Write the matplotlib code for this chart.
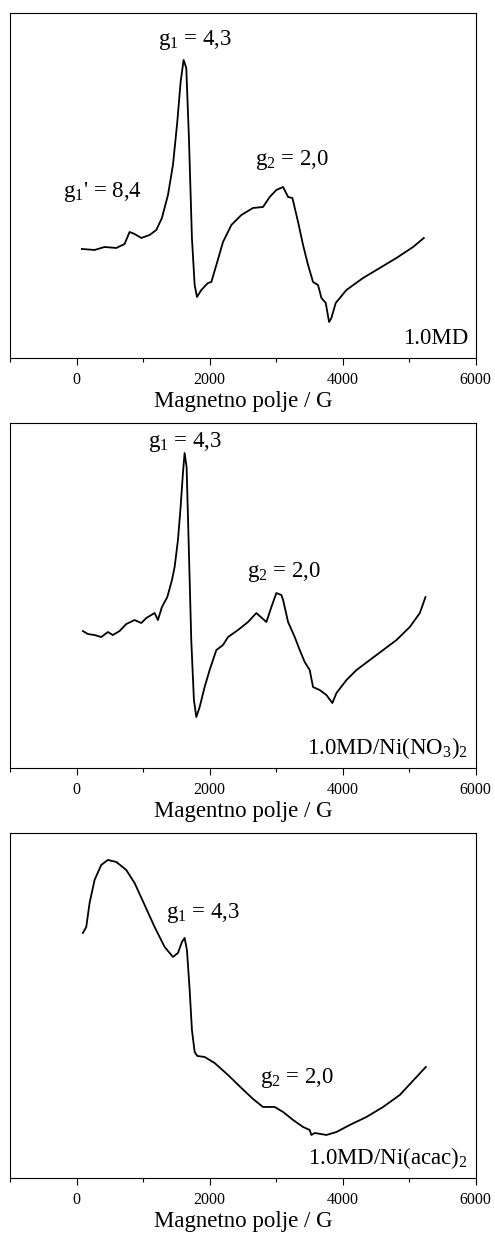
import matplotlib
matplotlib.use("Agg")
import matplotlib.pyplot as plt
from matplotlib.ticker import MultipleLocator

plt.rcParams['font.family'] = ['Liberation Serif', 'DejaVu Serif']
plt.rcParams['mathtext.fontset'] = 'custom'
plt.rcParams['mathtext.rm'] = 'Liberation Serif'
plt.rcParams['mathtext.it'] = 'Liberation Serif:italic'

# EPR spectra, field in G, intensity in arbitrary units
field_md = [80, 271, 421, 597, 722, 797, 872, 973, 1098, 1199, 1283, 1374, 1449,
            1514, 1564, 1609, 1649, 1689, 1734, 1775, 1810, 1875, 1975, 2026,
            2101, 2201, 2327, 2477, 2602, 2652, 2802, 2903, 3003, 3104, 3179,
            3244, 3329, 3404, 3479, 3554, 3629, 3680, 3745, 3795, 3830, 3895,
            4056, 4306, 4557, 4808, 5058, 5219]
signal_md = [109, 108, 111, 110, 114, 126, 124, 120, 123, 128, 140, 163, 193,
             236, 276, 298, 290, 220, 120, 73, 61, 68, 75, 76,
             93, 116, 133, 143, 148, 150, 151, 161, 168, 171, 161,
             160, 136, 113, 93, 76, 73, 60, 55, 36, 40, 55,
             68, 80, 90, 100, 111, 120]

field_no3 = [95, 170, 271, 371, 471, 546, 647, 747, 872, 973, 1048, 1173, 1223,
             1283, 1364, 1434, 1474, 1524, 1564, 1599, 1624, 1654, 1684, 1724,
             1764, 1800, 1850, 1925, 2000, 2101, 2201, 2276, 2426, 2577, 2702,
             2853, 2928, 3003, 3079, 3104, 3179, 3279, 3354, 3429, 3504, 3554,
             3655, 3755, 3845, 3906, 4056, 4207, 4407, 4607, 4808, 5008, 5159, 5244]
signal_no3 = [137, 134, 133, 131, 136, 133, 137, 144, 148, 145, 150, 155, 148,
              161, 171, 188, 201, 228, 261, 295, 315, 301, 228, 128,
              68, 51, 61, 81, 98, 118, 123, 131, 138, 146, 155,
              146, 161, 175, 173, 168, 146, 131, 118, 106, 98, 81,
              78, 73, 65, 75, 88, 98, 108, 118, 128, 141, 155, 171]

field_acac = [95, 146, 196, 271, 371, 471, 597, 747, 872, 1023, 1173, 1324,
              1449, 1524, 1584, 1624, 1659, 1700, 1734, 1775, 1815, 1925, 2075,
              2276, 2477, 2652, 2802, 2978, 3104, 3254, 3404, 3504, 3529, 3579,
              3755, 3906, 4106, 4357, 4607, 4858, 5109, 5249]
signal_acac = [245, 251, 275, 298, 313, 318, 316, 308, 295, 273, 251, 231,
               221, 225, 236, 240, 228, 188, 148, 126, 122, 121, 115,
               103, 90, 79, 71, 71, 66, 58, 51, 48, 43, 45,
               43, 46, 53, 61, 71, 83, 101, 111]

xlabels = ["Magnetno polje / G", "Magentno polje / G", "Magnetno polje / G"]
samples = ["1.0MD", r"1.0MD/Ni(NO$_\mathrm{3}$)$_\mathrm{2}$",
           r"1.0MD/Ni(acac)$_\mathrm{2}$"]

fig = plt.figure(figsize=(4.95, 12.34), dpi=100)
bottoms = [0.7099, 0.3776, 0.0454]
axes = [fig.add_axes([0.0202, b, 0.941, 0.2796]) for b in bottoms]

series = [(field_md, signal_md), (field_no3, signal_no3), (field_acac, signal_acac)]
for ax, (x, y), xl, name in zip(axes, series, xlabels, samples):
    ax.plot(x, y, color='black', lw=1.3)
    ax.set_xlim(-1000, 6000)
    ax.set_ylim(0, 345)
    ax.set_yticks([])
    ax.xaxis.set_major_locator(MultipleLocator(2000))
    ax.xaxis.set_minor_locator(MultipleLocator(1000))
    ax.tick_params(axis='x', which='major', direction='out', length=5, width=0.8,
                   labelsize=11.5, pad=5)
    ax.tick_params(axis='x', which='minor', direction='out', length=3, width=0.8)
    for sp in ax.spines.values():
        sp.set_linewidth(0.8)
    ax.set_xlabel(xl, fontsize=16.5, labelpad=2)
    ax.text(5880, 14, name, fontsize=16.5, ha='right', va='baseline')

txt = dict(fontsize=16.5, ha='left', va='baseline')
axes[0].text(1218, 313, r"g$_\mathrm{1}$ = 4,3", **txt)
axes[0].text(-196, 161, r"g$_\mathrm{1}$' = 8,4", **txt)
axes[0].text(2677, 193, r"g$_\mathrm{2}$ = 2,0", **txt)

axes[1].text(1068, 321, r"g$_\mathrm{1}$ = 4,3", **txt)
axes[1].text(2557, 191, r"g$_\mathrm{2}$ = 2,0", **txt)

axes[2].text(1339, 260, r"g$_\mathrm{1}$ = 4,3", **txt)
axes[2].text(2762, 95, r"g$_\mathrm{2}$ = 2,0", **txt)

fig.savefig("out.png", dpi=100)
